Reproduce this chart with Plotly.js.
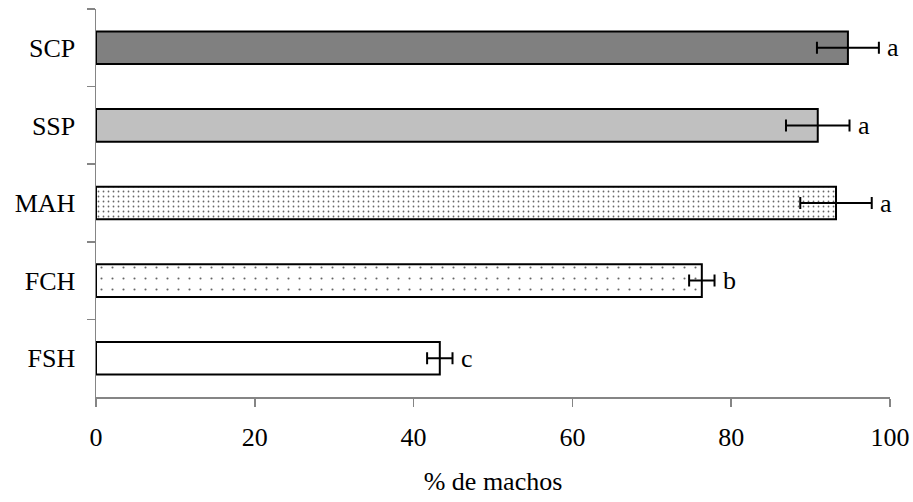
<!DOCTYPE html>
<html>
<head>
<meta charset="utf-8">
<script src="https://cdn.plot.ly/plotly-3.0.1.min.js"></script>
<style>html,body{margin:0;padding:0;background:#fff;}#chart{width:913px;height:502px;}</style>
</head>
<body>
<div id="chart"></div>
<script>
// Data (top to bottom)
const categories = ['SCP', 'SSP', 'MAH', 'FCH', 'FSH'];
const malePercent = [94.7, 90.9, 93.2, 76.3, 43.3];
const errorValues = [3.9, 4.0, 4.5, 1.6, 1.6];
const groupLetters = ['a', 'a', 'a', 'b', 'c'];
const xTickValues = [0, 20, 40, 60, 80, 100];
const xTitle = '% de machos';

const FONT = 'Liberation Serif, Times New Roman, serif';
const FS = 26;

// visual styles per category (not data)
const fills = ['#808080', '#c0c0c0', '#ffffff', '#ffffff', '#ffffff'];
const patterns = [null, null, {shape: '.', size: 5, solidity: 0.1}, {shape: '.', size: 11, solidity: 0.03}, null];

const traces = categories.map((c, i) => {
  const marker = {
    color: fills[i],
    line: {color: '#000000', width: 2}
  };
  if (patterns[i]) {
    marker.pattern = {
      shape: patterns[i].shape,
      size: patterns[i].size,
      solidity: patterns[i].solidity,
      fgcolor: '#666666',
      bgcolor: '#ffffff',
      fillmode: 'replace'
    };
  }
  return {
    type: 'bar',
    orientation: 'h',
    name: c,
    y: [c],
    x: [malePercent[i]],
    width: 0.42,
    marker: marker,
    error_x: {
      type: 'data',
      array: [errorValues[i]],
      visible: true,
      color: '#000000',
      thickness: 2,
      width: 6
    },
    hoverinfo: 'skip'
  };
});

const annotations = categories.map((c, i) => ({
  x: malePercent[i] + errorValues[i],
  y: c,
  xref: 'x',
  yref: 'y',
  text: groupLetters[i],
  showarrow: false,
  xanchor: 'left',
  yanchor: 'middle',
  xshift: 6,
  font: {family: FONT, size: FS, color: '#000000'}
}));

const layout = {
  width: 913,
  height: 502,
  margin: {l: 96, r: 23, t: 9, b: 105},
  paper_bgcolor: '#ffffff',
  plot_bgcolor: '#ffffff',
  showlegend: false,
  barmode: 'overlay',
  font: {family: FONT, size: FS, color: '#000000'},
  xaxis: {
    range: [0, 100],
    tickvals: xTickValues,
    ticktext: xTickValues.map(String),
    showgrid: false,
    zeroline: false,
    showline: true,
    linecolor: '#858585',
    linewidth: 1.5,
    ticks: 'outside',
    ticklen: 8,
    tickwidth: 1.5,
    tickcolor: '#858585',
    ticklabelstandoff: 8,
    tickfont: {family: FONT, size: FS, color: '#000000'},
    title: {text: xTitle, standoff: 21, font: {family: FONT, size: FS, color: '#000000'}},
    fixedrange: true
  },
  yaxis: {
    type: 'category',
    categoryorder: 'array',
    categoryarray: categories,
    autorange: 'reversed',
    showgrid: false,
    zeroline: false,
    showline: true,
    linecolor: '#858585',
    linewidth: 1.5,
    ticks: 'outside',
    tickson: 'boundaries',
    ticklen: 8,
    tickwidth: 1.5,
    tickcolor: '#858585',
    ticklabelstandoff: 14,
    tickfont: {family: FONT, size: FS, color: '#000000'},
    fixedrange: true
  },
  annotations: annotations
};

Plotly.newPlot('chart', traces, layout, {displayModeBar: false, staticPlot: true});
</script>
</body>
</html>
